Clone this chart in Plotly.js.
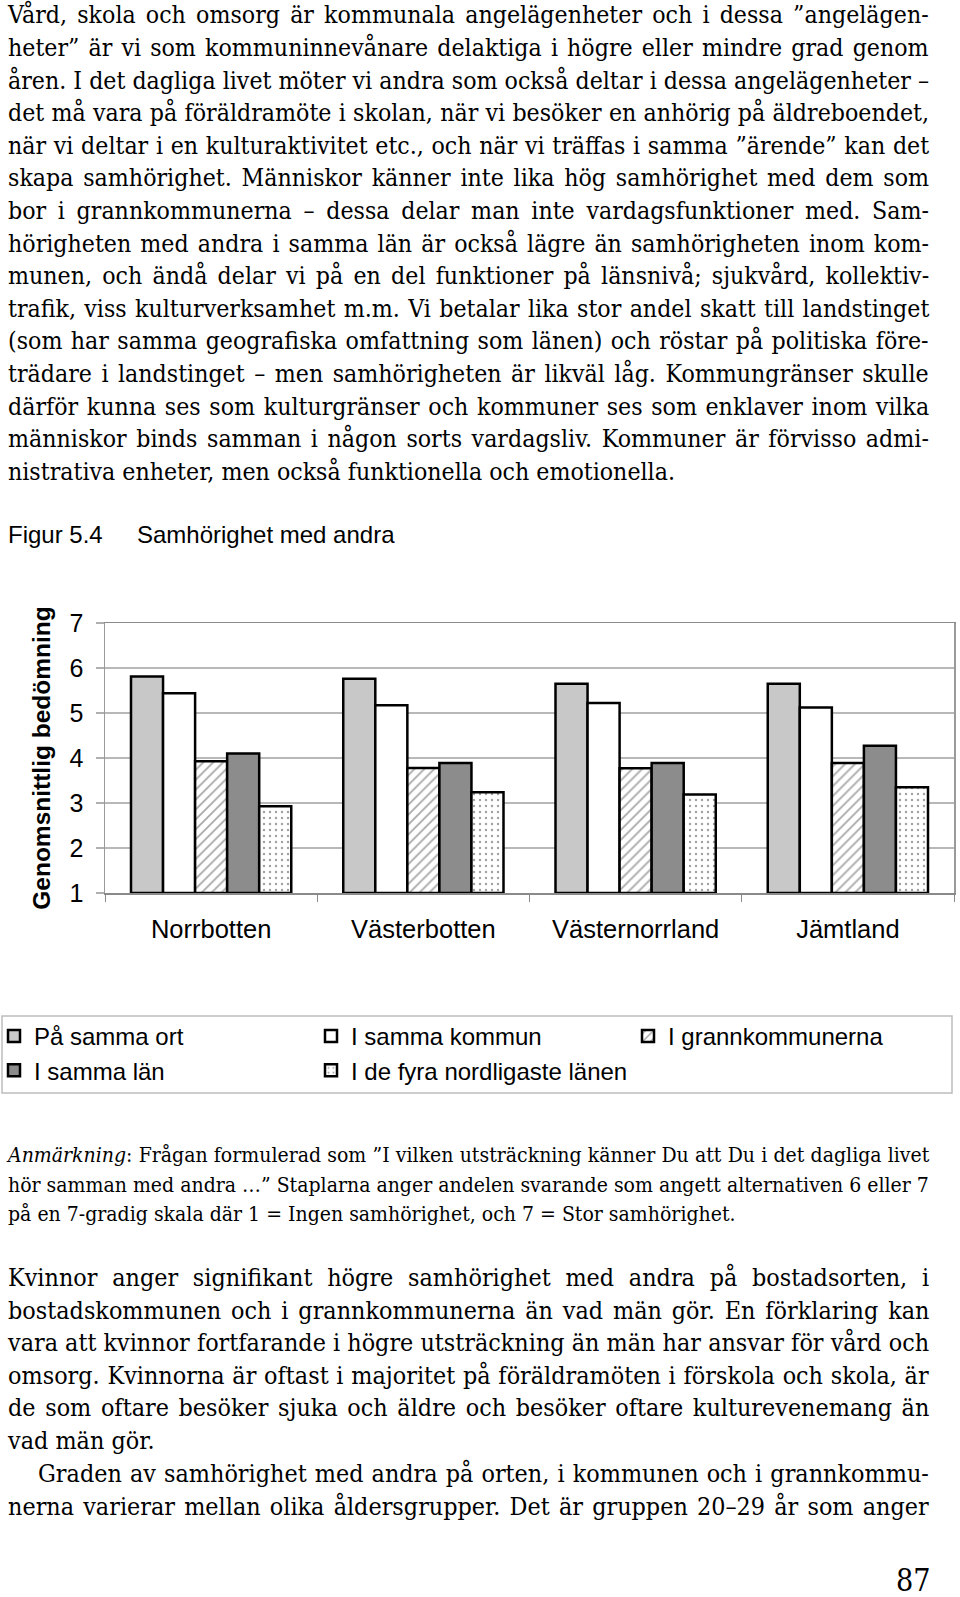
<!DOCTYPE html>
<html>
<head>
<meta charset="utf-8">
<script src="https://cdn.plot.ly/plotly-3.0.1.min.js"></script>
<style>
  html, body { margin:0; padding:0; background:#fff; }
  body { width:960px; height:1597px; position:relative; overflow:hidden; color:#000; }
  .ln { position:absolute; white-space:nowrap; font-family:"DejaVu Serif", serif; font-size:23.5px; line-height:32px; transform-origin:0 50%; }
  .sm { font-size:20px; line-height:28px; }
  .cap { position:absolute; font-family:"Liberation Sans", Arial, sans-serif; font-size:24px; line-height:30px; white-space:nowrap; }
  #chart { position:absolute; left:0; top:560px; width:960px; height:560px; }
</style>
</head>
<body>
<div id="text"></div>
<div class="cap" style="left:8px; top:520px;">Figur 5.4</div>
<div class="cap" style="left:137px; top:520px;">Samhörighet med andra</div>
<div id="chart"></div>
<script>
// ---------------- chart data ----------------
const categories = ["Norrbotten", "Västerbotten", "Västernorrland", "Jämtland"];
const seriesNames = ["På samma ort", "I samma kommun", "I grannkommunerna", "I samma län", "I de fyra nordligaste länen"];
const paSammaOrt       = [5.81, 5.76, 5.65, 5.65];
const iSammaKommun     = [5.44, 5.17, 5.22, 5.12];
const iGrannkommunerna = [3.93, 3.78, 3.77, 3.89];
const iSammaLan        = [4.10, 3.89, 3.89, 4.27];
const iDeFyraLanen     = [2.93, 3.24, 3.19, 3.35];
const yTickVals = [1, 2, 3, 4, 5, 6, 7];
const yTitle = "Genomsnittlig bedömning";

// ---------------- page text ----------------
const para1 = [
  "Vård, skola och omsorg är kommunala angelägenheter och i dessa ”angelägen-",
  "heter” är vi som kommuninnevånare delaktiga i högre eller mindre grad genom",
  "åren. I det dagliga livet möter vi andra som också deltar i dessa angelägenheter –",
  "det må vara på föräldramöte i skolan, när vi besöker en anhörig på äldreboendet,",
  "när vi deltar i en kulturaktivitet etc., och när vi träffas i samma ”ärende” kan det",
  "skapa samhörighet. Människor känner inte lika hög samhörighet med dem som",
  "bor i grannkommunerna – dessa delar man inte vardagsfunktioner med. Sam-",
  "hörigheten med andra i samma län är också lägre än samhörigheten inom kom-",
  "munen, och ändå delar vi på en del funktioner på länsnivå; sjukvård, kollektiv-",
  "trafik, viss kulturverksamhet m.m. Vi betalar lika stor andel skatt till landstinget",
  "(som har samma geografiska omfattning som länen) och röstar på politiska före-",
  "trädare i landstinget – men samhörigheten är likväl låg. Kommungränser skulle",
  "därför kunna ses som kulturgränser och kommuner ses som enklaver inom vilka",
  "människor binds samman i någon sorts vardagsliv. Kommuner är förvisso admi-",
  "nistrativa enheter, men också funktionella och emotionella."
];
const note = [
  "<i>Anmärkning</i>: Frågan formulerad som ”I vilken utsträckning känner Du att Du i det dagliga livet",
  "hör samman med andra …” Staplarna anger andelen svarande som angett alternativen 6 eller 7",
  "på en 7-gradig skala där 1 = Ingen samhörighet, och 7 = Stor samhörighet."
];
const para2 = [
  "Kvinnor anger signifikant högre samhörighet med andra på bostadsorten, i",
  "bostadskommunen och i grannkommunerna än vad män gör. En förklaring kan",
  "vara att kvinnor fortfarande i högre utsträckning än män har ansvar för vård och",
  "omsorg. Kvinnorna är oftast i majoritet på föräldramöten i förskola och skola, är",
  "de som oftare besöker sjuka och äldre och besöker oftare kulturevenemang än",
  "vad män gör."
];
const para3 = [
  "Graden av samhörighet med andra på orten, i kommunen och i grannkommu-",
  "nerna varierar mellan olika åldersgrupper. Det är gruppen 20–29 år som anger"
];

const LEFT = 8, RIGHT = 929;
const host = document.getElementById('text');
function makeLines(lines, yStart, step, cls, lastJustified, indentFirst) {
  return lines.map((t, i) => {
    const el = document.createElement('div');
    el.className = 'ln' + (cls ? ' ' + cls : '');
    el.innerHTML = t;
    const ind = (i === 0 && indentFirst) ? indentFirst : 0;
    const lh = cls === 'sm' ? 28 : 32;
    el.style.left = (LEFT + ind) + 'px';
    el.style.top = (yStart + i * step - lh / 2) + 'px';
    host.appendChild(el);
    return { el, indent: ind, justify: (i < lines.length - 1) || lastJustified };
  });
}
function fitGroup(items) {
  items.forEach(o => { o.w = o.el.offsetWidth; });
  const just = items.filter(o => o.justify);
  const s = Math.min(...just.map(o => (RIGHT - LEFT - o.indent) / o.w));
  items.forEach(o => {
    if (o.justify) {
      const target = (RIGHT - LEFT - o.indent) / s;
      const n = (o.el.textContent.match(/ /g) || []).length;
      if (n > 0) o.el.style.wordSpacing = ((target - o.w) / n) + 'px';
    }
    o.el.style.transform = 'scaleX(' + s + ')';
  });
}
fitGroup(makeLines(para1, 15.3, 32.6, '', false, 0));
fitGroup(makeLines(note, 1155, 29.5, 'sm', false, 0));
fitGroup(makeLines(para2, 1278, 32.6, '', false, 0).concat(makeLines(para3, 1474, 32.6, '', true, 30)));
// page number
(function(){
  const el = document.createElement('div');
  el.className = 'ln';
  el.style.fontSize = '32px';
  el.style.lineHeight = '40px';
  el.textContent = '87';
  host.appendChild(el);
  const w = el.offsetWidth * 0.85;
  el.style.transform = 'scaleX(0.85)';
  el.style.left = (931 - w) + 'px';
  el.style.top = (1580 - 20) + 'px';
})();

// ---------------- plotly chart ----------------
const seriesValues = [paSammaOrt, iSammaKommun, iGrannkommunerna, iSammaLan, iDeFyraLanen];
const fills = ["#c8c8c8", "#ffffff", "#ffffff", "#8c8c8c", "#ffffff"];
const patterns = [
  null,
  null,
  { shape: "/", fgcolor: "#a8a8a8", bgcolor: "#ffffff", size: 7, solidity: 0.25 },
  null,
  { shape: ".", fgcolor: "#a0a0a0", bgcolor: "#ffffff", size: 6, solidity: 0.12 }
];
const baseValue = yTickVals[0];
const traces = seriesValues.map((vals, i) => {
  const m = { color: fills[i], line: { color: "#000", width: 2.5 } };
  if (patterns[i]) m.pattern = patterns[i];
  return {
    type: "bar",
    name: seriesNames[i],
    x: categories,
    y: vals.map(v => v - baseValue),
    base: baseValue,
    marker: m,
    hoverinfo: "skip"
  };
});

const plotL = 105, plotR = 954, plotT = 623, plotB = 893, divTop = 560;
const pw = plotR - plotL, ph = plotB - plotT;
const px2x = p => (p - plotL) / pw;
const py2y = p => (plotB - p) / ph;

const layout = {
  width: 960, height: 560,
  margin: { l: plotL, r: 960 - plotR, t: plotT - divTop, b: 560 - (plotB - divTop), autoexpand: false },
  paper_bgcolor: "rgba(0,0,0,0)",
  plot_bgcolor: "#fff",
  font: { family: "Liberation Sans, Arial, sans-serif", size: 24, color: "#000" },
  barmode: "group",
  bargap: 0.245,
  bargroupgap: 0,
  showlegend: true,
  xaxis: {
    type: "category",
    automargin: false,
    showline: true, linecolor: "#8a8a8a", linewidth: 1.5, mirror: true,
    ticks: "outside", tickson: "boundaries", ticklen: 7, tickcolor: "#8a8a8a", tickwidth: 1,
    ticklabelstandoff: 13,
    showgrid: false,
    tickfont: { size: 25.5 }
  },
  yaxis: {
    automargin: false,
    range: [yTickVals[0], yTickVals[yTickVals.length - 1]],
    tickvals: yTickVals,
    showline: true, linecolor: "#9a9a9a", linewidth: 1.5, mirror: true,
    ticks: "outside", ticklen: 8, tickcolor: "#b0b0b0", tickwidth: 1.3,
    ticklabelstandoff: 7,
    showgrid: true, gridcolor: "#b8b8b8", gridwidth: 1.3,
    zeroline: false,
    tickfont: { size: 25 },
    title: { text: yTitle, font: { size: 24.5, weight: "bold" }, standoff: 12 }
  },
  legend: {
    orientation: "h",
    x: px2x(-6), xanchor: "left",
    y: py2y(1014), yanchor: "top",
    entrywidth: 272, entrywidthmode: "pixels",
    font: { size: 24, family: "Liberation Sans, Arial, sans-serif" },
    bgcolor: "rgba(0,0,0,0)",
    borderwidth: 0,
    traceorder: "normal"
  },
  shapes: [{
    type: "rect", xref: "paper", yref: "paper",
    x0: px2x(2), x1: px2x(952), y0: py2y(1093), y1: py2y(1016),
    line: { color: "#bdbdbd", width: 1.5 }, fillcolor: "rgba(0,0,0,0)"
  }]
};

Plotly.newPlot("chart", traces, layout, { staticPlot: true, displayModeBar: false });
</script>
</body>
</html>
